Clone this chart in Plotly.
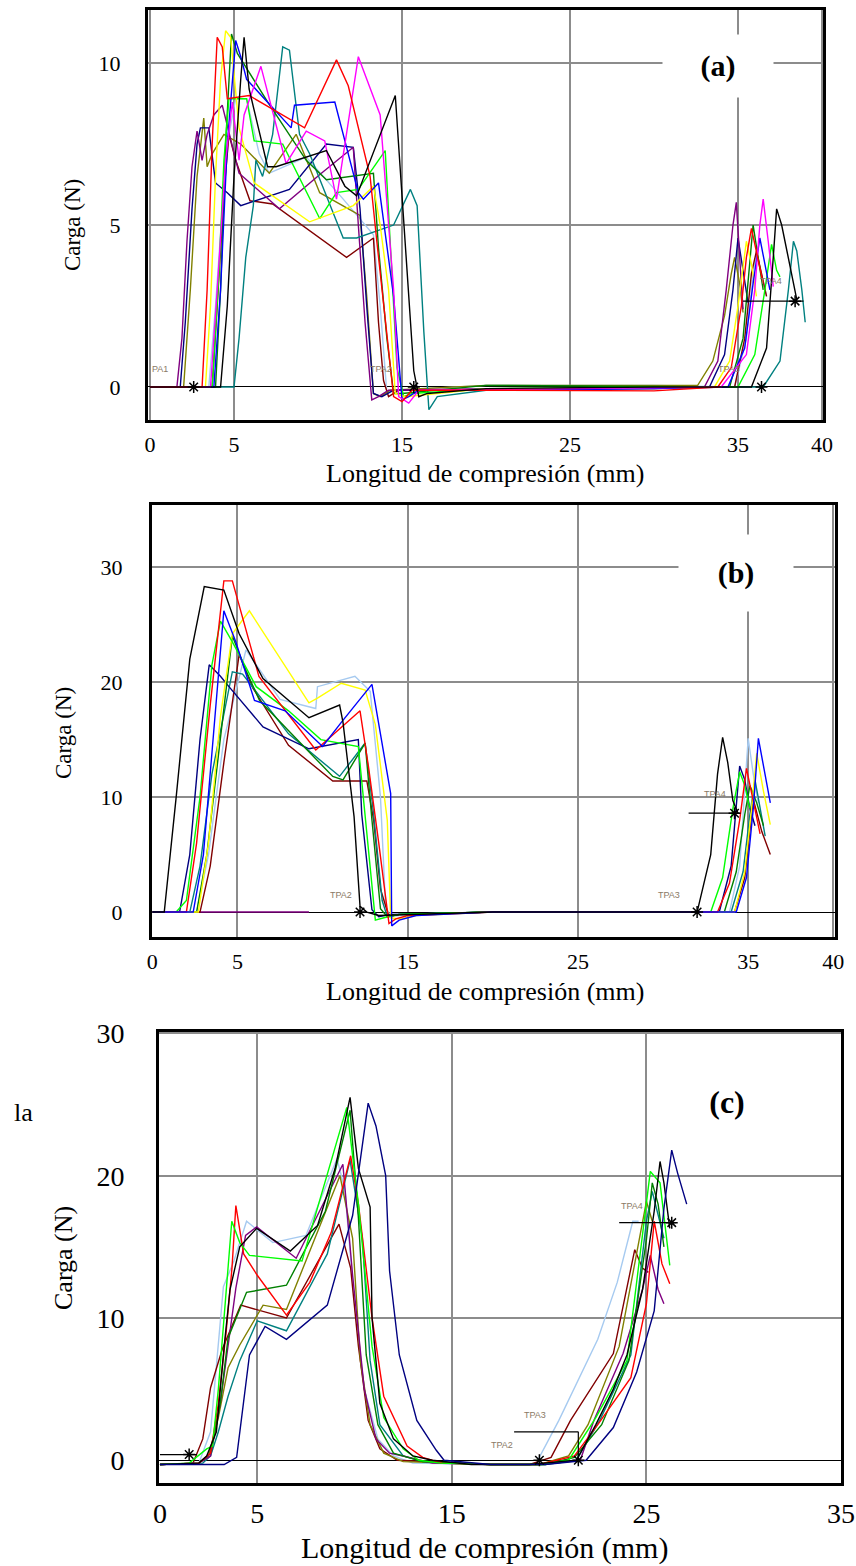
import plotly.graph_objects as go

# ---------------- panel (a) ----------------
a_purple_x = [0, 1.6, 1.9, 2.2, 2.5, 2.8, 3.1, 3.4, 3.8, 4.3, 5.3, 7.7, 10.2, 12.1, 12.4, 12.8, 13.2, 13.6, 14.2, 20, 30, 33.0, 33.8, 34.3, 34.7, 34.9, 35.1, 35.3]
a_purple_y = [0, 0, 1.5, 4.5, 6.8, 7.9, 7.0, 7.8, 8.4, 8.7, 6.6, 5.5, 6.6, 7.4, 5.0, 2.0, -0.4, -0.3, -0.1, -0.05, -0.05, 0.0, 0.8, 3.0, 5.0, 5.7, 4.0, 2.4]
a_navy_x = [0, 1.8, 2.1, 2.5, 2.8, 3.0, 3.5, 3.9, 4.6, 5.4, 8.3, 10.5, 12.1, 12.5, 12.9, 13.3, 13.8, 14.5, 20, 30, 33.3, 34.2, 34.7, 35.0, 35.3, 35.6]
a_navy_y = [0, 0, 2.0, 5.5, 7.5, 8.0, 8.0, 6.3, 6.0, 5.6, 6.1, 7.5, 7.4, 5.5, 2.5, -0.2, -0.3, -0.1, -0.08, -0.05, 0.0, 1.0, 3.0, 4.6, 3.6, 2.6]
a_olive_x = [0, 2.0, 2.4, 2.8, 3.2, 3.4, 3.7, 4.4, 5.4, 7.1, 8.7, 10.1, 12.5, 12.9, 13.3, 13.7, 14.3, 20, 30, 32.6, 33.5, 34.2, 34.6, 34.8, 35.1, 35.3]
a_olive_y = [0, 0, 3.0, 6.5, 8.3, 6.8, 7.2, 7.8, 7.5, 6.6, 7.8, 6.0, 5.3, 2.8, -0.2, -0.3, -0.1, 0.05, 0.05, 0.05, 0.8, 2.2, 3.5, 4.0, 3.2, 2.3]
a_red_x = [0, 3.1, 3.4, 3.7, 4.0, 4.3, 4.6, 5.9, 9.2, 11.1, 11.8, 13.1, 13.5, 14.1, 14.5, 15.0, 15.6, 20, 30, 33.8, 34.6, 35.2, 35.5, 35.8, 36.1, 36.5]
a_red_y = [0, 0, 3.0, 7.5, 10.8, 10.5, 8.9, 9.0, 8.0, 10.1, 9.3, 6.5, 4.5, 1.5, -0.3, -0.45, -0.1, -0.1, -0.12, 0.0, 0.6, 2.5, 4.0, 4.9, 4.2, 3.2]
a_yellow_x = [0, 3.3, 3.6, 3.9, 4.2, 4.5, 4.8, 5.3, 6.2, 9.5, 12.1, 13.3, 13.7, 14.2, 14.6, 15.2, 20, 30, 33.6, 34.5, 35.0, 35.3, 35.5, 35.8, 36.1]
a_yellow_y = [0, 0, 2.5, 6.5, 9.5, 11.0, 10.8, 8.0, 6.3, 5.1, 5.6, 6.2, 5.0, 3.0, -0.2, -0.3, -0.05, -0.05, 0.0, 0.8, 2.5, 3.8, 4.5, 3.8, 2.8]
a_magenta_x = [0, 3.6, 4.0, 4.5, 4.9, 5.3, 5.6, 6.6, 8.1, 9.3, 10.4, 11.1, 12.4, 13.7, 14.5, 14.8, 15.4, 16.0, 25, 34.0, 35.5, 36.0, 36.3, 36.5, 36.8, 37.1]
a_magenta_y = [0, 0, 3.0, 7.0, 8.8, 7.0, 8.4, 9.9, 6.9, 7.9, 7.6, 5.8, 10.2, 8.4, 3.0, -0.3, -0.5, -0.1, -0.05, 0.0, 1.0, 3.0, 5.0, 5.8, 4.5, 3.1]
a_blue_x = [0, 3.8, 4.2, 4.6, 5.1, 5.4, 5.75, 8.4, 8.6, 11.0, 12.4, 12.7, 13.6, 14.5, 15.0, 15.4, 16.0, 22, 30, 34.4, 35.4, 35.9, 36.3, 36.6, 36.9]
a_blue_y = [0, 0, 3.0, 7.5, 10.7, 10.2, 9.5, 8.0, 8.7, 8.8, 6.0, 5.8, 6.3, 2.8, -0.4, -0.3, -0.1, -0.1, -0.05, 0.0, 1.2, 3.2, 4.6, 3.8, 3.0]
a_green_x = [0, 3.7, 4.1, 4.4, 4.7, 5.75, 6.2, 7.9, 10.1, 11.1, 12.4, 14.0, 14.4, 14.7, 15.1, 15.6, 20, 30, 35.0, 36.0, 36.6, 37.0, 37.3, 37.5]
a_green_y = [0, 0, 3.5, 7.0, 8.9, 8.9, 7.6, 7.5, 5.2, 6.0, 6.1, 7.3, 3.5, 0.6, -0.3, -0.2, -0.05, 0.0, 0.0, 1.0, 3.0, 4.4, 3.6, 3.4]
a_dkgreen_x = [0, 3.9, 4.2, 4.5, 4.85, 5.2, 7.0, 9.3, 10.5, 13.3, 13.6, 14.1, 14.5, 15.0, 20, 30, 34.5, 35.3, 35.7, 35.9, 36.2, 36.5]
a_dkgreen_y = [0, 0, 3.0, 7.5, 10.9, 10.3, 8.8, 7.0, 6.4, 6.6, 4.3, 1.5, -0.2, -0.2, 0.05, 0.0, 0.0, 1.5, 3.8, 5.0, 4.0, 3.0]
a_teal_x = [0, 5.0, 5.3, 5.7, 6.15, 6.3, 6.7, 7.3, 7.9, 8.3, 8.9, 9.5, 11.5, 12.3, 14.5, 15.5, 15.9, 16.3, 16.6, 17.1, 20, 30, 36.5, 37.5, 38.0, 38.3, 38.5, 38.8, 39.0]
a_teal_y = [0, 0, 1.5, 4.0, 5.6, 7.0, 6.5, 7.8, 10.5, 10.4, 7.8, 7.2, 4.6, 4.6, 5.0, 6.1, 5.6, 1.7, -0.7, -0.3, -0.1, 0.0, 0.0, 0.8, 3.0, 4.5, 4.2, 3.0, 2.0]
a_black_x = [0, 4.2, 4.6, 5.0, 5.4, 5.6, 5.9, 7.0, 7.5, 10.5, 11.6, 12.3, 14.6, 14.8, 15.3, 15.7, 16.0, 16.5, 20, 30, 35.8, 36.7, 37.1, 37.3, 37.6, 38.0, 38.5]
a_black_y = [0, 0, 2.5, 6.5, 9.5, 10.8, 9.2, 6.8, 6.8, 7.3, 6.2, 5.9, 9.0, 7.5, 3.7, 0.5, -0.3, -0.2, -0.05, 0.0, 0.0, 1.2, 4.0, 5.5, 5.0, 4.0, 2.7]
a_brown_x = [0, 3.7, 4.0, 4.4, 4.7, 5.1, 5.95, 7.3, 11.7, 13.3, 13.6, 13.9, 14.2, 14.8, 20, 30, 34.8, 35.4, 35.8, 36.1, 36.4, 36.7]
a_brown_y = [0, 0, 2.5, 6.0, 7.8, 7.0, 5.75, 5.65, 4.0, 4.6, 2.0, 0.2, -0.3, -0.1, -0.1, 0.0, 0.0, 1.5, 3.5, 4.2, 3.5, 2.8]
a_ltblue_x = [0, 3.5, 3.9, 4.3, 4.7, 5.1, 5.75, 6.5, 7.1, 9.3, 11.5, 13.3, 13.7, 14.1, 14.6, 20, 30, 34.8, 35.5, 35.9, 36.1, 36.4, 36.7]
a_ltblue_y = [0, 0, 2.5, 5.5, 7.8, 8.9, 8.9, 7.2, 6.6, 7.1, 5.8, 4.7, 2.5, -0.2, -0.1, 0.05, 0.05, 0.0, 1.5, 3.5, 4.1, 3.5, 2.8]

# ---------------- panel (b) ----------------
b_black_x = [0, 0.7, 1.4, 2.2, 3.05, 4.2, 5.1, 6.5, 9.2, 11.0, 11.2, 11.85, 12.2, 12.6, 13.3, 20, 30, 32.0, 32.8, 33.2, 33.5, 33.8, 34.1, 34.4]
b_black_y = [0, 0, 10, 22, 28.3, 28.0, 24.2, 20.3, 16.9, 18.0, 16.5, 8.3, 0.5, 0.0, -0.3, 0.0, 0.0, 0.0, 5.0, 12.0, 15.2, 13.0, 9.7, 8.6]
b_red_x = [0, 2.0, 2.6, 3.4, 4.2, 4.7, 6.26, 9.6, 12.2, 12.7, 13.3, 13.9, 14.3, 15.0, 20, 30, 33.2, 33.9, 34.5, 34.9, 35.3, 35.7]
b_red_y = [0, 0, 6, 18, 28.8, 28.8, 20.5, 14.1, 17.5, 12.6, 6.0, -1.0, -0.6, -0.3, 0.0, 0.0, 0.0, 2.5, 8.0, 12.5, 9.5, 6.8]
b_yellow_x = [0, 2.7, 3.3, 4.0, 4.7, 5.7, 9.2, 9.7, 11.1, 12.5, 13.1, 13.8, 14.0, 14.5, 15.5, 20, 30, 34.2, 34.8, 35.2, 35.5, 35.9, 36.3]
b_yellow_y = [0, 0, 6, 17, 24.2, 26.2, 18.2, 18.6, 19.9, 19.3, 16.3, 8.0, -0.5, -0.6, -0.3, 0.0, 0.0, 0.0, 3.5, 9.0, 13.8, 10.5, 7.6]
b_blue_x = [0, 2.4, 3.0, 3.6, 4.2, 4.9, 6.0, 7.8, 10.0, 11.1, 12.9, 14.0, 14.06, 14.5, 15.5, 20, 30, 34.3, 34.9, 35.3, 35.6, 36.0, 36.3]
b_blue_y = [0, 0, 5, 16, 26.2, 23.5, 18.4, 17.5, 14.4, 16.5, 19.8, 10.3, -1.2, -0.7, -0.3, 0.0, 0.0, 0.0, 3.0, 9.0, 15.1, 12.0, 9.5]
b_green_x = [0, 1.4, 2.0, 2.8, 3.5, 4.0, 4.7, 6.1, 8.0, 9.9, 12.1, 12.6, 13.1, 13.6, 14.5, 20, 30, 32.8, 33.5, 34.1, 34.5, 34.8, 35.1]
b_green_y = [0, 0, 1, 10, 21.5, 25.3, 23.5, 19.6, 17.5, 15.0, 14.4, 6.8, -0.7, -0.5, -0.2, 0.0, 0.0, 0.0, 3.0, 9.0, 12.2, 11.0, 9.0]
b_dkgreen_x = [0, 2.6, 3.2, 3.9, 4.7, 5.5, 6.3, 8.5, 10.6, 11.2, 12.5, 12.9, 13.4, 13.8, 14.5, 20, 30, 33.6, 34.3, 34.8, 35.1, 35.5, 35.9]
b_dkgreen_y = [0, 0, 5, 14, 24.0, 21.0, 18.4, 15.0, 11.8, 11.5, 14.7, 8.0, 0.3, -0.4, -0.2, 0.0, 0.0, 0.0, 3.5, 8.5, 11.0, 9.5, 7.5]
b_navy_x = [0, 1.6, 2.2, 2.8, 3.34, 4.0, 4.5, 6.5, 9.2, 12.1, 12.3, 12.9, 13.3, 14.0, 20, 30, 33.3, 34.0, 34.5, 34.8, 35.1, 35.4]
b_navy_y = [0, 0, 5, 15, 21.5, 20.5, 19.6, 16.1, 14.2, 15.0, 8.5, 0.2, -0.4, -0.2, 0.0, 0.0, 0.0, 4.0, 12.7, 11.5, 9.0, 7.5]
b_teal_x = [0, 2.2, 2.8, 3.5, 4.7, 5.3, 8.0, 11.0, 12.5, 13.0, 13.5, 13.8, 14.5, 20, 30, 34.0, 34.7, 35.1, 35.4, 35.7, 36.0]
b_teal_y = [0, 0, 4, 12, 20.9, 20.7, 15.5, 11.8, 14.7, 8.5, 1.0, -0.4, -0.2, 0.0, 0.0, 0.0, 3.5, 8.5, 11.5, 9.0, 6.6]
b_brown_x = [0, 2.8, 3.4, 4.2, 5.1, 5.9, 8.0, 10.6, 12.6, 13.0, 13.4, 13.9, 14.5, 20, 30, 34.2, 34.8, 35.1, 35.3, 35.8, 36.3]
b_brown_y = [0, 0, 4, 13, 22.4, 19.5, 14.5, 11.4, 11.4, 8.0, 2.0, -0.4, -0.2, 0.0, 0.0, 0.0, 3.0, 7.0, 9.8, 7.0, 5.0]
b_ltblue_x = [0, 2.6, 3.3, 4.2, 5.5, 7.5, 9.6, 9.7, 11.9, 12.8, 13.4, 13.7, 14.0, 15.0, 20, 30, 33.9, 34.5, 34.8, 35.0, 35.3, 35.6]
b_ltblue_y = [0, 0, 5, 15, 22.8, 18.5, 17.7, 19.6, 20.5, 19.2, 10.0, 0.5, -0.4, -0.2, 0.0, 0.0, 0.0, 4.0, 11.0, 15.1, 12.0, 9.5]
b_purple_x = [0, 2.6, 9.2]
b_purple_y = [0, 0, 0]

# ---------------- panel (c) ----------------
c_black_x = [0, 2.0, 2.4, 2.9, 3.3, 3.6, 4.1, 4.97, 6.7, 8.1, 9.0, 9.77, 10.2, 10.8, 10.9, 11.3, 12.0, 13.0, 14.0, 16, 19, 21.4, 22.4, 23.3, 24.0, 24.8, 25.4, 25.7, 25.9, 26.2]
c_black_y = [-0.3, -0.2, 0.3, 2.0, 8.0, 12.0, 15.0, 16.3, 14.7, 16.5, 20.5, 25.5, 20.5, 17.8, 10.0, 4.0, 1.5, 0.3, 0.0, -0.3, -0.3, 0.0, 2.5, 5.0, 7.4, 12.0, 17.5, 21.0, 19.5, 16.3]
c_navy_x = [0, 3.3, 3.94, 4.3, 4.6, 5.4, 6.5, 8.6, 9.9, 10.7, 11.1, 11.6, 11.8, 12.3, 13.2, 14.2, 14.6, 17, 19.8, 21.9, 23.3, 24.5, 25.4, 25.9, 26.3, 26.6, 27.07]
c_navy_y = [-0.3, -0.3, 0.2, 4.0, 7.4, 9.4, 8.5, 10.9, 17.2, 25.1, 23.5, 20.0, 13.3, 7.4, 2.8, 0.7, 0.0, -0.3, -0.3, 0.0, 2.3, 6.2, 10.5, 17.7, 21.8, 20.2, 18.0]
c_red_x = [0, 2.0, 2.6, 3.0, 3.4, 3.7, 3.9, 4.3, 5.0, 6.5, 7.7, 8.8, 9.8, 10.2, 10.9, 11.5, 12.7, 13.5, 14.5, 17, 19.5, 21.3, 22.5, 24.2, 25.0, 25.4, 25.8, 26.2]
c_red_y = [-0.3, -0.2, 0.5, 4.0, 9.0, 13.5, 17.9, 14.5, 13.0, 10.2, 12.5, 16.0, 21.4, 18.0, 10.0, 4.5, 1.0, 0.2, -0.2, -0.3, -0.3, 0.3, 2.5, 5.8, 11.0, 16.8, 13.8, 12.4]
c_green_x = [0, 1.5, 2.4, 2.7, 3.0, 3.4, 3.69, 4.1, 4.6, 7.3, 9.6, 10.2, 10.9, 11.5, 12.5, 13.3, 14.4, 17, 19.6, 21.0, 22.4, 24.0, 25.2, 25.7, 26.2]
c_green_y = [-0.3, -0.2, 0.8, 1.0, 5.0, 12.0, 16.8, 15.3, 14.4, 14.0, 24.8, 18.0, 8.0, 3.0, 0.8, 0.0, -0.2, -0.3, -0.3, 0.0, 3.0, 7.0, 20.3, 19.5, 13.7]
c_ltblue_x = [0, 2.0, 2.6, 3.26, 3.8, 4.45, 5.8, 7.5, 9.1, 9.5, 10.0, 10.5, 11.2, 12.0, 13.0, 17, 19.3, 20.5, 22.5, 23.5, 24.3, 24.6]
c_ltblue_y = [-0.3, -0.2, 2.0, 12.2, 14.0, 16.8, 15.3, 15.8, 21.2, 19.0, 11.0, 5.0, 1.5, 0.3, -0.2, -0.3, -0.3, 2.8, 8.5, 12.5, 16.8, 16.8]
c_purple_x = [0, 2.0, 2.6, 3.1, 3.9, 4.4, 4.97, 7.0, 9.4, 9.9, 10.5, 11.1, 11.8, 12.5, 14.0, 17, 19.5, 21.6, 22.3, 23.8, 24.8, 25.2, 25.6, 25.9]
c_purple_y = [-0.3, -0.2, 0.3, 4.0, 12.1, 15.8, 16.4, 14.2, 20.8, 13.0, 5.0, 1.5, 0.5, 0.3, -0.2, -0.3, -0.3, 0.0, 2.8, 7.5, 12.0, 14.4, 12.0, 11.0]
c_dkgreen_x = [0, 2.0, 2.6, 3.1, 3.5, 4.45, 6.5, 8.5, 9.77, 10.2, 10.6, 11.2, 12.0, 13.5, 17, 19.8, 21.3, 22.7, 24.1, 25.0, 25.3, 25.6, 25.9]
c_dkgreen_y = [-0.3, -0.2, 0.5, 4.0, 8.6, 11.8, 12.3, 17.5, 24.6, 17.0, 7.4, 2.5, 0.5, -0.1, -0.3, -0.3, 0.2, 2.5, 7.0, 15.5, 19.5, 18.0, 15.0]
c_olive_x = [0, 2.0, 2.5, 3.0, 3.5, 4.1, 5.3, 6.5, 9.25, 9.9, 10.3, 10.8, 11.5, 12.5, 17, 19.5, 21.0, 22.0, 23.6, 25.0, 25.3]
c_olive_y = [-0.3, -0.2, 0.3, 3.0, 6.5, 8.1, 10.9, 10.6, 20.0, 15.6, 7.0, 2.5, 0.5, -0.1, -0.3, -0.3, 0.3, 2.5, 8.0, 18.2, 16.8]
c_brown_x = [0, 1.7, 2.2, 2.6, 3.2, 4.15, 6.5, 9.2, 9.8, 10.2, 10.7, 11.3, 12.2, 17, 19.0, 20.1, 21.1, 23.3, 24.4, 24.8, 25.1]
c_brown_y = [-0.3, -0.2, 1.5, 5.1, 7.8, 10.9, 10.0, 16.6, 13.5, 8.0, 2.8, 0.8, 0.0, -0.3, -0.3, 0.2, 2.8, 7.5, 14.8, 13.5, 13.2]
c_teal_x = [0, 2.2, 2.6, 3.0, 3.5, 4.1, 5.0, 6.5, 8.6, 9.77, 10.4, 10.8, 11.3, 12.5, 13.5, 17, 19.8, 21.4, 22.6, 24.2, 25.0, 25.3, 25.9]
c_teal_y = [-0.3, -0.2, 0.3, 2.0, 4.5, 7.0, 9.8, 9.1, 14.5, 21.1, 15.6, 7.0, 2.5, 0.3, -0.1, -0.3, -0.3, 0.0, 2.8, 7.4, 16.8, 18.9, 15.6]

# TPA marker points (x, y)
a_tpa_x = [2.6, 15.7, 36.4, 38.4]
a_tpa_y = [0, 0, 0, 2.65]
b_tpa_x = [12.2, 32.0, 34.2]
b_tpa_y = [0, 0, 8.6]
c_tpa_x = [1.5, 19.5, 21.5, 26.3]
c_tpa_y = [0.4, 0, 0, 16.7]

x_ticks_ab = [0, 5, 15, 25, 35, 40]
x_ticks_c = [0, 5, 15, 25, 35]
y_ticks_a = [0, 5, 10]
y_ticks_b = [0, 10, 20, 30]
y_ticks_c = [0, 10, 20, 30]

COLORS = {
    "red": "#ff0000", "magenta": "#ff00ff", "blue": "#0000ff", "yellow": "#ffff00",
    "green": "#00ff00", "dkgreen": "#008000", "teal": "#008080", "black": "#000000",
    "navy": "#000080", "purple": "#800080", "brown": "#800000", "olive": "#808000",
    "ltblue": "#a6caf0",
}

panel_a = [("ltblue", a_ltblue_x, a_ltblue_y), ("brown", a_brown_x, a_brown_y),
           ("olive", a_olive_x, a_olive_y), ("navy", a_navy_x, a_navy_y),
           ("purple", a_purple_x, a_purple_y), ("teal", a_teal_x, a_teal_y),
           ("dkgreen", a_dkgreen_x, a_dkgreen_y), ("green", a_green_x, a_green_y),
           ("yellow", a_yellow_x, a_yellow_y), ("blue", a_blue_x, a_blue_y),
           ("magenta", a_magenta_x, a_magenta_y), ("red", a_red_x, a_red_y),
           ("black", a_black_x, a_black_y)]
panel_b = [("purple", b_purple_x, b_purple_y), ("ltblue", b_ltblue_x, b_ltblue_y),
           ("brown", b_brown_x, b_brown_y), ("teal", b_teal_x, b_teal_y),
           ("navy", b_navy_x, b_navy_y), ("dkgreen", b_dkgreen_x, b_dkgreen_y),
           ("yellow", b_yellow_x, b_yellow_y), ("green", b_green_x, b_green_y),
           ("red", b_red_x, b_red_y), ("blue", b_blue_x, b_blue_y),
           ("black", b_black_x, b_black_y)]
panel_c = [("ltblue", c_ltblue_x, c_ltblue_y), ("brown", c_brown_x, c_brown_y),
           ("olive", c_olive_x, c_olive_y), ("teal", c_teal_x, c_teal_y),
           ("purple", c_purple_x, c_purple_y), ("dkgreen", c_dkgreen_x, c_dkgreen_y),
           ("red", c_red_x, c_red_y), ("green", c_green_x, c_green_y),
           ("black", c_black_x, c_black_y), ("navy", c_navy_x, c_navy_y)]

FONT = "Liberation Serif"
W, H = 856, 1566

fig = go.Figure()


def axes(n):
    return ("x", "y") if n == 1 else ("x%d" % n, "y%d" % n)


for n, curves in enumerate([panel_a, panel_b, panel_c], start=1):
    xa, ya = axes(n)
    for name, xs, ys in curves:
        fig.add_trace(go.Scatter(x=xs, y=ys, mode="lines", xaxis=xa, yaxis=ya,
                                 line=dict(color=COLORS[name], width=1.4),
                                 showlegend=False, hoverinfo="skip"))

for n, (tx, ty) in enumerate([(a_tpa_x, a_tpa_y), (b_tpa_x, b_tpa_y), (c_tpa_x, c_tpa_y)], start=1):
    xa, ya = axes(n)
    fig.add_trace(go.Scatter(x=tx, y=ty, mode="markers", xaxis=xa, yaxis=ya,
                             marker=dict(symbol="asterisk-open", size=10, color="black",
                                         line=dict(color="black", width=1.5)),
                             showlegend=False, hoverinfo="skip"))

# TPA guide lines
guide = dict(color="black", width=1.2)
fig.add_shape(type="line", xref="x", yref="y", x0=35.3, x1=38.9, y0=2.65, y1=2.65, line=guide)
fig.add_shape(type="line", xref="x2", yref="y2", x0=31.5, x1=34.5, y0=8.6, y1=8.6, line=guide)
fig.add_shape(type="line", xref="x3", yref="y3", x0=18.2, x1=21.5, y0=2.0, y1=2.0, line=guide)
fig.add_shape(type="line", xref="x3", yref="y3", x0=21.5, x1=21.5, y0=0, y1=2.0, line=guide)
fig.add_shape(type="line", xref="x3", yref="y3", x0=23.6, x1=26.5, y0=16.7, y1=16.7, line=guide)
fig.add_shape(type="line", xref="x3", yref="y3", x0=0, x1=1.9, y0=0.4, y1=0.4, line=guide)

axis_common = dict(showline=True, linecolor="black", linewidth=3, mirror=True,
                   showgrid=True, gridcolor="#8c8c8c", gridwidth=1.5, automargin=False,
                   ticks="", tickfont=dict(family=FONT, size=22, color="black"))


def xdom(l, r):
    return [l / W, r / W]


def ydom(b, t):
    return [1 - b / H, 1 - t / H]


fig.update_layout(
    width=W, height=H, margin=dict(l=0, r=0, t=0, b=0, autoexpand=False),
    paper_bgcolor="white", plot_bgcolor="white", showlegend=False,
    xaxis=dict(axis_common, domain=xdom(148, 823), range=[-0.12, 40.06], tickvals=x_ticks_ab,
               zeroline=False, anchor="y", ticklabelstandoff=3),
    yaxis=dict(axis_common, domain=ydom(420, 10), range=[-1.02, 11.64], tickvals=y_ticks_a,
               zeroline=True, zerolinecolor="black", zerolinewidth=1.2, anchor="x",
               ticklabelstandoff=20),
    xaxis2=dict(axis_common, domain=xdom(152, 835), range=[-0.02, 40.1], tickvals=x_ticks_ab,
                zeroline=False, anchor="y2", ticklabelstandoff=3),
    yaxis2=dict(axis_common, domain=ydom(937, 505), range=[-2.17, 35.4], tickvals=y_ticks_b,
                zeroline=True, zerolinecolor="black", zerolinewidth=1.2, anchor="x2",
                ticklabelstandoff=22),
    xaxis3=dict(axis_common, domain=xdom(159, 841), range=[-0.05, 35.0], tickvals=x_ticks_c,
                zeroline=False, anchor="y3", ticklabelstandoff=3,
                tickfont=dict(family=FONT, size=28, color="black")),
    yaxis3=dict(axis_common, domain=ydom(1483, 1032), range=[-1.6, 30.1], tickvals=y_ticks_c,
                zeroline=True, zerolinecolor="black", zerolinewidth=1.2, anchor="x3",
                ticklabelstandoff=26, tickfont=dict(family=FONT, size=28, color="black")),
)

ann = []
# panel letters
for txt, xr, yr, x, y, w, h, size in [("(a)", "x", "y", 33.8, 9.9, 108, 60, 30),
                                      ("(b)", "x2", "y2", 34.3, 29.5, 112, 74, 30),
                                      ("(c)", "x3", "y3", 29.15, 25.2, 90, 60, 32)]:
    ann.append(dict(text="<b>%s</b>" % txt, xref=xr, yref=yr, x=x, y=y, showarrow=False,
                    xanchor="center", yanchor="middle",
                    font=dict(family=FONT, size=size, color="black"),
                    bgcolor="white", width=w, height=h))
# axis titles
for y_px, size in [(473, 26), (991, 26), (1548, 30)]:
    ann.append(dict(text="Longitud de compresión (mm)", xref="paper", yref="paper",
                    x=485 / W, y=1 - y_px / H, showarrow=False,
                    xanchor="center", yanchor="middle",
                    font=dict(family=FONT, size=size, color="black")))
for x_px, y_px, size in [(72, 225, 23), (63, 733, 23), (63, 1258, 26)]:
    ann.append(dict(text="Carga (N)", xref="paper", yref="paper", textangle=-90,
                    x=x_px / W, y=1 - y_px / H, showarrow=False,
                    xanchor="center", yanchor="middle",
                    font=dict(family=FONT, size=size, color="black")))
ann.append(dict(text="la", xref="paper", yref="paper", x=23 / W, y=1 - 1112 / H,
                xanchor="center", yanchor="middle",
                showarrow=False, font=dict(family=FONT, size=26, color="black")))
# TPA labels
tpa_font = dict(family="Liberation Sans", size=9, color="#8a7a66")
for txt, xr, yr, x, y in [("PA1", "x", "y", 0.0, 0.35), ("TPA2", "x", "y", 13.0, 0.35),
                          ("TPA3", "x", "y", 33.7, 0.35), ("TPA4", "x", "y", 36.2, 3.05),
                          ("TPA2", "x2", "y2", 10.3, 0.9), ("TPA3", "x2", "y2", 29.6, 0.9),
                          ("TPA4", "x2", "y2", 32.3, 9.7),
                          ("TPA2", "x3", "y3", 16.9, 0.6), ("TPA3", "x3", "y3", 18.6, 2.7),
                          ("TPA4", "x3", "y3", 23.6, 17.4)]:
    ann.append(dict(text=txt, xref=xr, yref=yr, x=x, y=y, xanchor="left", yanchor="bottom",
                    showarrow=False, font=tpa_font))
fig.update_layout(annotations=ann)

fig.write_html("out.html", config={"displayModeBar": False},
               post_script="document.body.style.margin='0';document.body.style.overflow='hidden';")
